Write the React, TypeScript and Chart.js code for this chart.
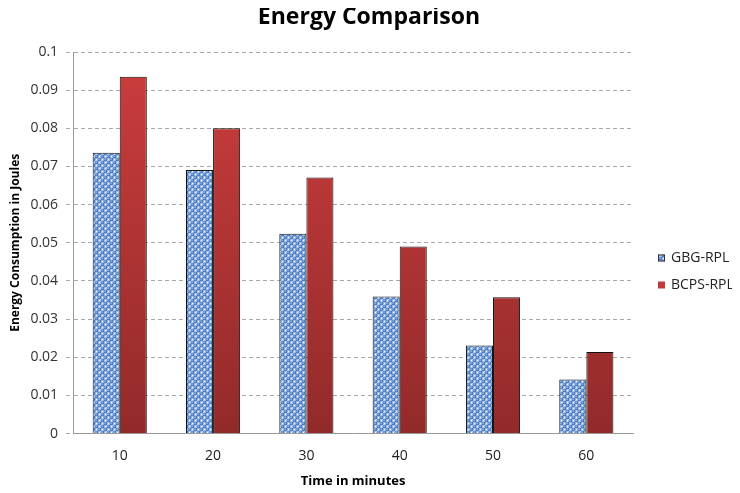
import React, { useEffect, useRef } from "react";
import { Chart, registerables } from "chart.js";

Chart.register(...registerables);

const categories = ["10", "20", "30", "40", "50", "60"];
const gbgValues = [0.0736, 0.0691, 0.0524, 0.0359, 0.0231, 0.0142];
const bcpsValues = [0.0935, 0.08, 0.0671, 0.049, 0.0357, 0.0214];
const seriesNames = ["GBG-RPL", "BCPS-RPL"];
const yTicks = [0, 0.01, 0.02, 0.03, 0.04, 0.05, 0.06, 0.07, 0.08, 0.09, 0.1];
const chartTitle = "Energy Comparison";

const FONT = "'Open Sans', sans-serif";

function makePattern(): CanvasPattern | string {
  const c = document.createElement("canvas");
  c.width = 6;
  c.height = 6;
  const ctx = c.getContext("2d");
  if (!ctx) return "#4f81bd";
  ctx.fillStyle = "#ffffff";
  ctx.fillRect(0, 0, 6, 6);
  const dot = (x: number, y: number) => {
    ctx.beginPath();
    ctx.arc(x, y, 2.1, 0, Math.PI * 2);
    ctx.fillStyle = "#4a7cc4";
    ctx.fill();
    ctx.beginPath();
    ctx.arc(x - 0.4, y - 0.4, 0.9, 0, Math.PI * 2);
    ctx.fillStyle = "#93b5e8";
    ctx.fill();
  };
  dot(1.5, 1.5);
  dot(4.5, 4.5);
  dot(-1.5, 4.5);
  dot(7.5, 1.5);
  dot(4.5, -1.5);
  dot(1.5, 7.5);
  return ctx.createPattern(c, "repeat") || "#4f81bd";
}

export default function App() {
  const ref = useRef<HTMLCanvasElement | null>(null);

  useEffect(() => {
    if (!ref.current) return;
    const pattern = makePattern();

    const redGradient = (context: any) => {
      const chart = context.chart;
      const area = chart.chartArea;
      if (!area) return "#c0393b";
      const g = chart.ctx.createLinearGradient(0, area.top, 0, area.bottom);
      g.addColorStop(0, "#cc3d3d");
      g.addColorStop(1, "#922a2a");
      return g;
    };

    const decorPlugin = {
      id: "decor",
      afterDraw(chart: any) {
        const ctx = chart.ctx;
        ctx.save();
        // title
        ctx.font = `bold 23px ${FONT}`;
        ctx.fillStyle = "#000";
        ctx.textAlign = "center";
        ctx.textBaseline = "middle";
        ctx.fillText(chartTitle, 361, 9);
        // legend
        const items = [
          { label: seriesNames[0], fill: pattern },
          { label: seriesNames[1], fill: "#c0393b" },
        ];
        const x = 650;
        const ys = [250, 277];
        ctx.font = `14px ${FONT}`;
        ctx.textAlign = "left";
        items.forEach((it, i) => {
          const y = ys[i];
          ctx.fillStyle = it.fill;
          ctx.fillRect(x, y - 3.5, 7, 7);
          if (i === 0) {
            ctx.strokeStyle = "#333";
            ctx.lineWidth = 1;
            ctx.strokeRect(x + 0.5, y - 3, 6, 6);
          }
          ctx.fillStyle = "#222";
          ctx.fillText(it.label, x + 13, y);
        });
        ctx.restore();
      },
    };

    const chart = new Chart(ref.current, {
      type: "bar",
      data: {
        labels: categories,
        datasets: [
          {
            label: seriesNames[0],
            data: gbgValues,
            backgroundColor: pattern as any,
            borderColor: "#111",
            borderWidth: 1,
          },
          {
            label: seriesNames[1],
            data: bcpsValues,
            backgroundColor: redGradient,
            borderColor: "#111",
            borderWidth: 1,
          },
        ],
      },
      options: {
        animation: false,
        responsive: true,
        maintainAspectRatio: false,
        datasets: {
          bar: { categoryPercentage: 0.58, barPercentage: 1.0 },
        },
        layout: { padding: { left: 0, right: 99, top: 44, bottom: 2 } },
        plugins: {
          legend: { display: false },
          tooltip: { enabled: false },
          title: { display: false },
        },
        scales: {
          x: {
            grid: { display: false, drawTicks: false },
            border: { display: true, color: "#999", width: 1 },
            ticks: {
              color: "#222",
              font: { family: FONT, size: 14 },
              padding: 14,
            },
            title: {
              display: true,
              text: "Time in minutes",
              color: "#000",
              font: { family: FONT, size: 13, weight: "bold" },
              padding: { top: -5, bottom: 0 },
            },
          },
          y: {
            min: 0,
            max: 0.1,
            afterBuildTicks: (axis: any) => {
              axis.ticks = yTicks.map((v) => ({ value: v }));
            },
            grid: {
              color: "#aaa",
              tickLength: 7,
              tickBorderDash: [4, 3],
            },
            border: { display: true, color: "#999", width: 1, dash: [4, 3] },
            ticks: {
              color: "#333",
              font: { family: FONT, size: 14 },
              padding: 8,
              callback: (v: any) => String(Number(v)),
            },
            title: {
              display: true,
              text: "Energy Consumption in Joules",
              color: "#000",
              font: { family: FONT, size: 12, weight: "bold" },
              padding: { top: 0, bottom: 0 },
            },
          },
        },
      },
      plugins: [decorPlugin],
    });
    return () => chart.destroy();
  }, []);

  return (
    <div style={{ width: 724, height: 483, position: "relative" }}>
      <canvas ref={ref} />
    </div>
  );
}
